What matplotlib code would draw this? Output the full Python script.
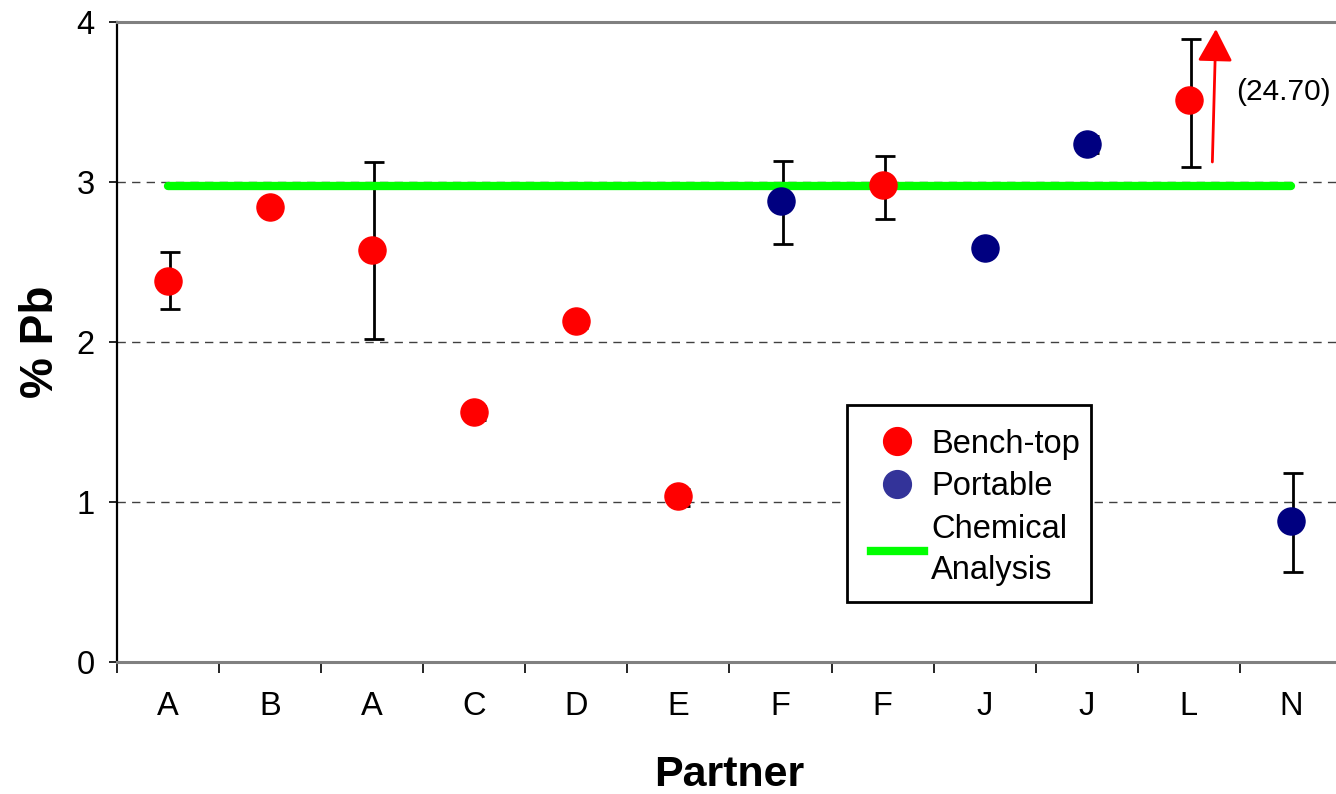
import matplotlib
matplotlib.use("Agg")
import matplotlib.pyplot as plt
from matplotlib.lines import Line2D
from matplotlib.patches import Rectangle
import numpy as np

# partners along the x axis
partners = ["A", "B", "A", "C", "D", "E", "F", "F", "J", "J", "L", "N"]
instrument = ["bench", "bench", "bench", "bench", "bench", "bench",
              "portable", "bench", "portable", "portable", "bench", "portable"]
pb_mean = [2.384, 2.846, 2.575, 1.565, 2.13, 1.035, 2.88, 2.98, 2.59, 3.24, 3.51, 0.88]
pb_low = [2.206, 2.81, 2.017, 1.51, 2.09, 0.975, 2.61, 2.77, 2.59, 3.18, 3.095, 0.565]
pb_high = [2.565, 2.87, 3.127, 1.60, 2.16, 1.08, 3.13, 3.16, 2.59, 3.29, 3.895, 1.18]
chem_value = 2.975
outlier_label = "(24.70)"

RED = "#FF0000"
NAVY = "#000080"
GREEN = "#00FF00"

plt.rcParams['font.family'] = ['Liberation Sans', 'DejaVu Sans']


def main():
    fig = plt.figure(figsize=(13.36, 7.94), dpi=100)
    ax = fig.add_axes([117 / 1336, 1 - 662 / 794, (1342 - 117) / 1336, (662 - 22) / 794])

    x = np.arange(len(partners))
    mean = np.array(pb_mean)
    lo = mean - np.array(pb_low)
    hi = np.array(pb_high) - mean

    # error bars, a hair to the right of the points
    ax.errorbar(x + 0.02, mean, yerr=[lo, hi], fmt='none', ecolor='black',
                elinewidth=2.0, capsize=7.5, capthick=2.0, zorder=3)

    # chemical analysis line
    ax.plot([x[0], x[-1]], [chem_value, chem_value], color=GREEN, lw=6,
            solid_capstyle='round', zorder=4)

    bench = np.array([k == "bench" for k in instrument])
    ax.plot(x[bench], mean[bench], 'o', color=RED, ms=19.5, mec=RED, zorder=5)
    ax.plot(x[~bench], mean[~bench], 'o', color=NAVY, ms=19.5, mec=NAVY, zorder=5)

    # off-scale arrow for partner L
    ax.annotate('', xy=(10.265, 3.956), xytext=(10.23, 3.125),
                arrowprops=dict(arrowstyle='-|>,head_length=1.0,head_width=0.54',
                                mutation_scale=20, color=RED, lw=2,
                                shrinkA=0, shrinkB=0), zorder=6)
    ax.text(10.93, 3.56, outlier_label, fontsize=21.5, ha='center', va='center')

    ax.set_xlim(-0.5, len(partners) - 0.5)
    ax.set_ylim(0, 4)
    ax.set_yticks([0, 1, 2, 3, 4])
    ax.set_xticks(x)
    ax.set_xticklabels(partners)
    ax.set_xticks(np.arange(-0.5, len(partners), 1.0), minor=True)
    ax.tick_params(axis='x', which='major', length=0, pad=21, labelsize=23.5)
    ax.tick_params(axis='x', which='minor', length=8, width=1.2, color='black')
    ax.tick_params(axis='y', length=6, width=1.2, pad=10, labelsize=23.5)

    for yv in [1, 2, 3]:
        ax.axhline(yv, color='#404040', lw=1, ls=(0, (6, 4.5)), zorder=1)

    ax.spines['left'].set_color('black')
    ax.spines['left'].set_linewidth(1.6)
    ax.spines['bottom'].set_color('#808080')
    ax.spines['bottom'].set_linewidth(2.2)
    ax.spines['top'].set_color('#808080')
    ax.spines['top'].set_linewidth(2.2)
    ax.spines['right'].set_visible(False)

    ax.set_ylabel('% Pb', fontsize=33, fontweight='bold', labelpad=10)
    ax.set_xlabel('Partner', fontsize=31, fontweight='bold', labelpad=24)

    # legend box drawn by hand so the padding matches
    box = Rectangle((847 / 1336, 1 - 602 / 794), (1091 - 847) / 1336, (602 - 405) / 794,
                    transform=fig.transFigure, facecolor='white', edgecolor='black',
                    lw=2, zorder=4.5, clip_on=False)
    ax.add_patch(box)

    handles = [
        Line2D([], [], marker='o', ls='none', color=RED, ms=20),
        Line2D([], [], marker='o', ls='none', color='#333399', ms=20),
        Line2D([], [], color=GREEN, lw=6),
    ]
    leg = ax.legend(handles, ['Bench-top', 'Portable', 'Chemical\nAnalysis'],
                    loc='upper left', bbox_to_anchor=(847 / 1336, 1 - 405 / 794),
                    bbox_transform=fig.transFigure, fontsize=23.5, frameon=False,
                    handlelength=1.65, handletextpad=0.2, labelspacing=0.36,
                    borderpad=0.72, borderaxespad=0)
    for t in leg.get_texts():
        t.set_linespacing(1.42)

    fig.savefig("out.png", dpi=100)


if __name__ == "__main__":
    main()
